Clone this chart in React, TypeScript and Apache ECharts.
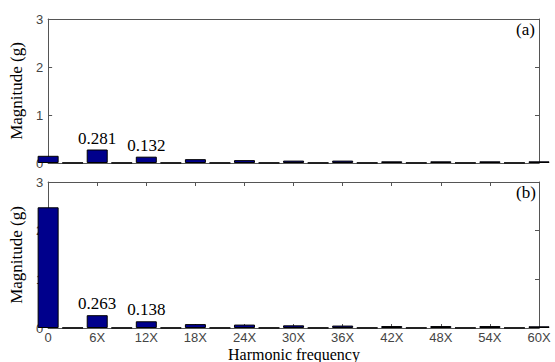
import React, { useEffect, useRef } from "react";
import * as echarts from "echarts";

const harmonics = [0, 3, 6, 9, 12, 15, 18, 21, 24, 27, 30, 33, 36, 39, 42, 45, 48, 51, 54, 57, 60];
const magnitudeA = [0.15, 0.005, 0.281, 0.005, 0.132, 0.005, 0.08, 0.005, 0.06, 0.005, 0.05, 0.005, 0.05, 0.005, 0.035, 0.005, 0.035, 0.005, 0.035, 0.005, 0.035];
const magnitudeB = [2.48, 0.005, 0.263, 0.005, 0.138, 0.005, 0.08, 0.005, 0.07, 0.005, 0.055, 0.005, 0.05, 0.005, 0.04, 0.005, 0.04, 0.005, 0.04, 0.005, 0.035];
const labelledHarmonics = [6, 12];
const panelTags = ["(a)", "(b)"];
const yLabel = "Magnitude (g)";
const xLabel = "Harmonic frequency";

export default function App() {
  const ref = useRef<HTMLDivElement>(null);
  useEffect(() => {
    if (!ref.current) return;
    const chart = echarts.init(ref.current, null, { renderer: "svg" });
    const axisColor = "#555";
    const serif = "Liberation Serif";
    const sans = "Liberation Sans";
    const grids = [
      { left: 44, top: 19, width: 495, height: 144 },
      { left: 44, top: 182, width: 495, height: 146 },
    ];
    const xAxes: any[] = [];
    const yAxes: any[] = [];
    grids.forEach((g, i) => {
      const isBottom = i === 1;
      xAxes.push({
        type: "value",
        gridIndex: i,
        min: 0,
        max: 60,
        interval: 6,
        position: "bottom",
        axisLine: { show: true, onZero: false, lineStyle: { color: axisColor, width: 1 } },
        axisTick: { show: isBottom, inside: true, length: 4, lineStyle: { color: axisColor } },
        axisLabel: {
          show: isBottom,
          fontFamily: sans,
          fontSize: 13,
          color: "#444",
          margin: 2,
          lineHeight: 14,
          formatter: (v: number) => (v === 0 ? "0" : v + "X"),
        },
        splitLine: { show: false },
      });
      xAxes.push({
        type: "value",
        gridIndex: i,
        min: 0,
        max: 60,
        interval: 6,
        position: "top",
        axisLine: { show: true, onZero: false, lineStyle: { color: axisColor, width: 1 } },
        axisTick: { show: isBottom, inside: true, length: 4, lineStyle: { color: axisColor } },
        axisLabel: { show: false },
        splitLine: { show: false },
      });
      yAxes.push({
        type: "value",
        gridIndex: i,
        min: 0,
        max: 3,
        interval: 1,
        position: "left",
        name: yLabel,
        nameLocation: "middle",
        nameGap: 22,
        nameTextStyle: { fontFamily: serif, fontSize: 17, color: "#000" },
        axisLine: { show: true, onZero: false, lineStyle: { color: axisColor, width: 1 } },
        axisTick: { show: true, inside: true, length: 4, lineStyle: { color: axisColor } },
        axisLabel: { fontFamily: sans, fontSize: 13, color: "#444", margin: 5 },
        splitLine: { show: false },
      });
      yAxes.push({
        type: "value",
        gridIndex: i,
        min: 0,
        max: 3,
        interval: 1,
        position: "right",
        axisLine: { show: true, onZero: false, lineStyle: { color: axisColor, width: 1 } },
        axisTick: { show: true, inside: true, length: 4, lineStyle: { color: axisColor } },
        axisLabel: { show: false },
        splitLine: { show: false },
      });
    });
    const makeData = (vals: number[]) =>
      harmonics.map((h, k) => {
        const item: any = { value: [h, vals[k]] };
        if (labelledHarmonics.includes(h)) {
          item.label = {
            show: true,
            position: "top",
            distance: 3,
            formatter: vals[k].toFixed(3),
            fontFamily: serif,
            fontSize: 17,
            color: "#000",
          };
        }
        return item;
      });
    const series = [magnitudeA, magnitudeB].map((vals, i) => ({
      type: "bar",
      xAxisIndex: i * 2,
      yAxisIndex: i * 2,
      barWidth: 21,
      clip: true,
      itemStyle: { color: "#00008C", borderColor: "#000", borderWidth: 1 },
      data: makeData(vals),
    }));
    chart.setOption({
      animation: false,
      grid: grids,
      xAxis: xAxes,
      yAxis: yAxes,
      series,
      graphic: [
        {
          type: "text",
          left: 516,
          top: 21,
          style: { text: panelTags[0], fontFamily: serif, fontSize: 17, fill: "#000" },
        },
        {
          type: "text",
          left: 516,
          top: 184,
          style: { text: panelTags[1], fontFamily: serif, fontSize: 17, fill: "#000" },
        },
        {
          type: "text",
          left: 228,
          top: 346,
          style: { text: xLabel, fontFamily: serif, fontSize: 16, lineHeight: 16, fill: "#000" },
        },
      ],
    });
    return () => chart.dispose();
  }, []);
  return <div ref={ref} style={{ position: "fixed", left: 0, top: 0, width: 555, height: 362, background: "#fff" }} />;
}
